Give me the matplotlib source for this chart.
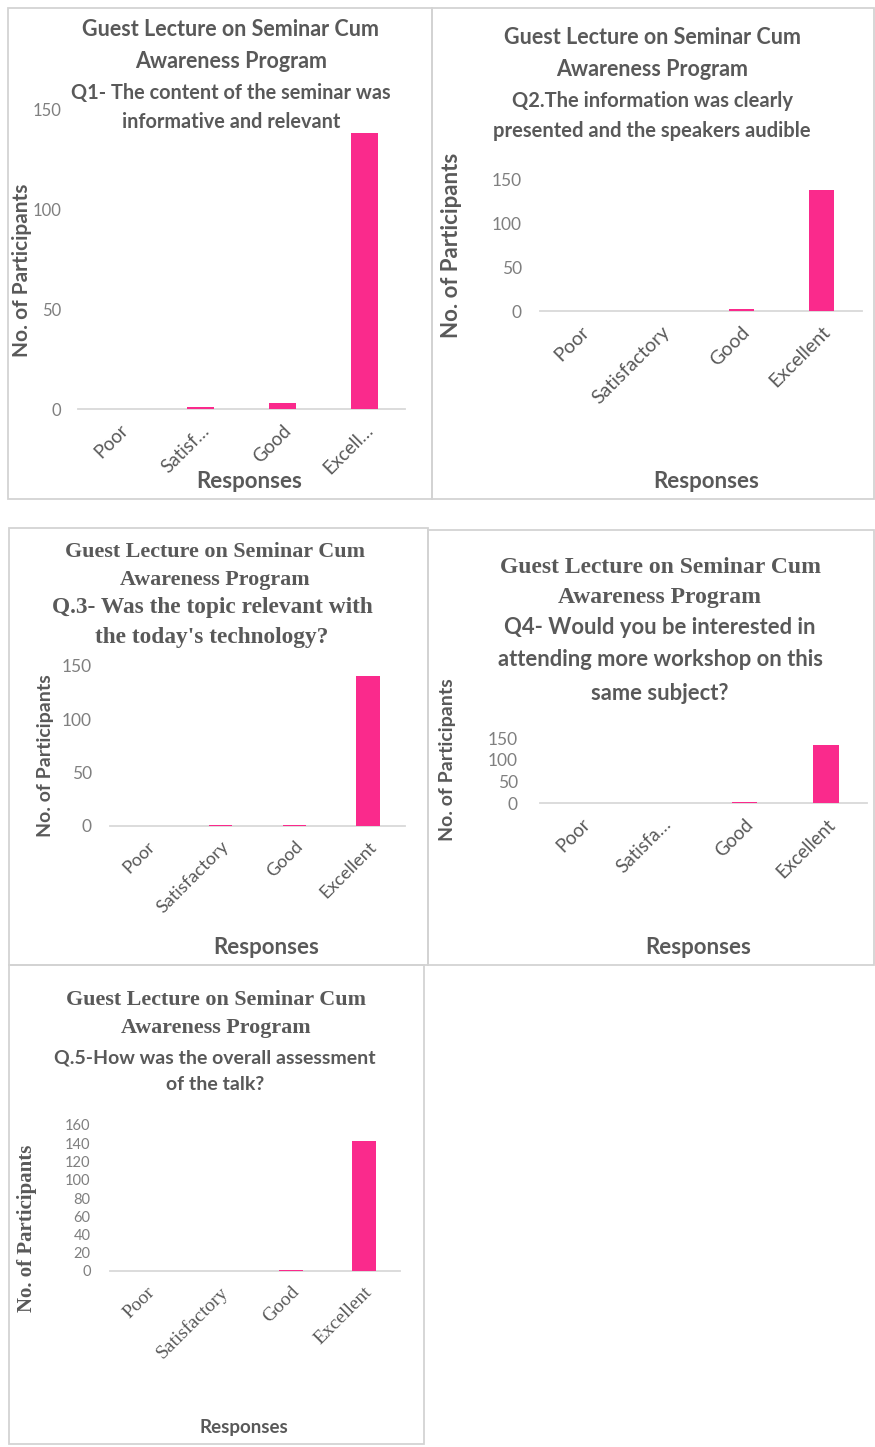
import matplotlib.pyplot as plt
from matplotlib.patches import Rectangle

# --- data ---
categories = ['Poor', 'Satisfactory', 'Good', 'Excellent']
q1_values = [0, 1, 3, 138]
q2_values = [0, 0, 2, 138]
q3_values = [0, 1, 1, 141]
q4_values = [0, 0, 3, 133]
q5_values = [0, 0, 1, 143]

q1_labels = ['Poor', 'Satisf…', 'Good', 'Excell…']
q2_labels = categories
q3_labels = categories
q4_labels = ['Poor', 'Satisfa…', 'Good', 'Excellent']
q5_labels = categories

title_top = ['Guest Lecture on Seminar Cum', 'Awareness Program']
q1_question = ['Q1- The content of the seminar was', 'informative and relevant']
q2_question = ['Q2.The information was clearly', 'presented and the speakers audible']
q3_question = ['Q.3- Was the topic relevant with', "the today's technology?"]
q4_question = ['Q4- Would you be interested in', 'attending more workshop on this', 'same subject?']
q5_question = ['Q.5-How was the overall assessment', 'of the talk?']

W, H = 875, 1447
PINK = '#FA2A8C'
GREY = '#595959'
SANS = ['Lato', 'DejaVu Sans']
SERIF = ['Liberation Serif', 'DejaVu Serif']

fig = plt.figure(figsize=(W / 100, H / 100), dpi=100)
fig.patch.set_facecolor('white')


def fx(x):
    return x / W


def fy(y):
    return 1 - y / H


def text_px(x, y, s, **kw):
    fig.text(fx(x), fy(y), s, ha='center', va='center', color=GREY, **kw)


def box_px(x0, y0, x1, y1):
    fig.add_artist(Rectangle((fx(x0), fy(y1)), fx(x1) - fx(x0), fy(y0) - fy(y1),
                             transform=fig.transFigure, fill=False,
                             edgecolor='#D3D3D3', lw=1.3))


def bar_panel(x0, x1, y_top, y_zero, values, labels, ymax, ystep,
              tick_font, tick_size, ytick_size, width=0.32, ypad=13):
    ax = fig.add_axes([fx(x0), fy(y_zero), fx(x1) - fx(x0), fy(y_top) - fy(y_zero)])
    ax.bar(range(len(values)), values, width=width, color=PINK, zorder=3)
    ax.set_xlim(-0.5, len(values) - 0.5)
    ax.set_ylim(0, ymax)
    ax.set_yticks(range(0, ymax + 1, ystep))
    ax.set_xticks(range(len(values)))
    ax.set_xticklabels(labels, rotation=45, ha='right', va='top', rotation_mode='anchor',
                       family=tick_font, fontsize=tick_size, color=GREY)
    for t in ax.get_yticklabels():
        t.set_family(SANS)
        t.set_fontsize(ytick_size)
        t.set_color('#7F7F7F')
    ax.tick_params(length=0)
    ax.tick_params(axis='y', pad=ypad)
    ax.tick_params(axis='x', pad=9)
    for s in ['top', 'right', 'left']:
        ax.spines[s].set_visible(False)
    ax.spines['bottom'].set_color('#D9D9D9')
    ax.spines['bottom'].set_linewidth(1.3)
    ax.set_facecolor('none')
    return ax


# --- panel borders ---
box_px(8, 8, 432, 499)
box_px(432, 8, 874, 499)
box_px(9, 528, 428, 965)
box_px(428, 530, 874, 965)
box_px(9, 965, 424, 1444)

# --- Q1 ---
bar_panel(78, 405, 109, 409, q1_values, q1_labels, 150, 50, SANS, 13.5, 12, width=0.33, ypad=12)
for i, line in enumerate(title_top):
    text_px(231, 30 + i * 32, line, family=SANS, fontsize=15.5, fontweight='bold')
for i, line in enumerate(q1_question):
    text_px(231, 93 + i * 29, line, family=SANS, fontsize=14.3, fontweight='bold')
text_px(22, 270, 'No. of Participants', family=SANS, fontsize=15, fontweight='bold', rotation=90)
text_px(249, 482, 'Responses', family=SANS, fontsize=16, fontweight='bold')

# --- Q2 ---
bar_panel(540, 862, 180, 311, q2_values, q2_labels, 150, 50, SANS, 14, 12.5, width=0.31)
for i, line in enumerate(title_top):
    text_px(652, 37 + i * 32, line, family=SANS, fontsize=15.5, fontweight='bold')
for i, line in enumerate(q2_question):
    text_px(652, 101 + i * 30, line, family=SANS, fontsize=14.5, fontweight='bold')
text_px(452, 245, 'No. of Participants', family=SANS, fontsize=16, fontweight='bold', rotation=90)
text_px(706, 482, 'Responses', family=SANS, fontsize=16, fontweight='bold')

# --- Q3 ---
bar_panel(110, 405, 666, 826, q3_values, q3_labels, 150, 50, SANS, 13, 12.5, width=0.32)
for i, line in enumerate(title_top):
    text_px(215, 552 + i * 28, line, family=SERIF, fontsize=15.8, fontweight='bold')
for i, line in enumerate(q3_question):
    text_px(212, 608 + i * 29, line, family=SERIF, fontsize=16.8, fontweight='bold')
text_px(46, 756, 'No. of Participants', family=SANS, fontsize=14, fontweight='bold', rotation=90)
text_px(266, 947, 'Responses', family=SANS, fontsize=16, fontweight='bold')

# --- Q4 ---
bar_panel(540, 867, 738, 803, q4_values, q4_labels, 150, 50, SANS, 13.5, 12.5, width=0.31, ypad=16)
for i, line in enumerate(title_top):
    text_px(660, 567 + i * 30, line, family=SERIF, fontsize=17, fontweight='bold')
for i, line in enumerate(q4_question):
    text_px(660, 627 + i * 33, line, family=SANS, fontsize=15.8, fontweight='bold')
text_px(447, 760, 'No. of Participants', family=SANS, fontsize=14, fontweight='bold', rotation=90)
text_px(698, 948, 'Responses', family=SANS, fontsize=16, fontweight='bold')

# --- Q5 ---
bar_panel(110, 400, 1125, 1271, q5_values, q5_labels, 160, 20, SERIF, 14, 10.5, width=0.33, ypad=14)
for i, line in enumerate(title_top):
    text_px(216, 1000 + i * 28, line, family=SERIF, fontsize=15.8, fontweight='bold')
for i, line in enumerate(q5_question):
    text_px(215, 1058 + i * 27, line, family=SANS, fontsize=14, fontweight='bold')
text_px(27, 1228, 'No. of Participants', family=SERIF, fontsize=15, fontweight='bold', rotation=90)
text_px(244, 1427, 'Responses', family=SANS, fontsize=13.5, fontweight='bold')

fig.savefig('out.png', dpi=100, facecolor='white')
